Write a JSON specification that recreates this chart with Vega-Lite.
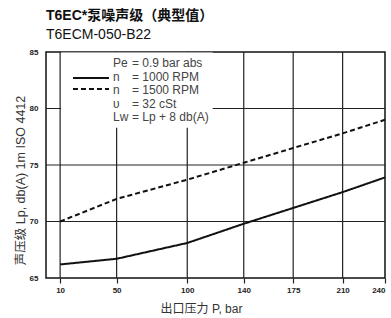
{
  "$schema": "https://vega.github.io/schema/vega-lite/v6.json",
  "width": 339,
  "height": 226,
  "autosize": {"type": "none"},
  "padding": {"left": 46, "top": 52, "right": 6, "bottom": 40},
  "background": "white",
  "title": {
    "text": "T6EC*泵噪声级（典型值）",
    "subtitle": "T6ECM-050-B22",
    "anchor": "start",
    "frame": "group",
    "font": "Liberation Sans, Noto Sans CJK SC",
    "fontSize": 14,
    "fontWeight": "bold",
    "color": "#111",
    "subtitleFont": "Liberation Sans",
    "subtitleFontSize": 14,
    "subtitleColor": "#111",
    "subtitlePadding": 5,
    "offset": 6
  },
  "config": {
    "view": {"stroke": "#111", "strokeWidth": 1.5},
    "axis": {
      "grid": false,
      "domain": false,
      "labelFont": "Liberation Sans",
      "labelFontSize": 8,
      "labelFontWeight": "bold",
      "labelColor": "#222",
      "titleFont": "Liberation Sans, Noto Sans CJK SC",
      "titleFontSize": 12.5,
      "titleFontWeight": "normal",
      "titleColor": "#333",
      "tickColor": "#222",
      "tickWidth": 1.2
    }
  },
  "datasets": {
    "curves": [
      {"P": 10, "L": 66.2, "n": "1000"},
      {"P": 50, "L": 66.7, "n": "1000"},
      {"P": 100, "L": 68.1, "n": "1000"},
      {"P": 140, "L": 69.8, "n": "1000"},
      {"P": 175, "L": 71.2, "n": "1000"},
      {"P": 210, "L": 72.6, "n": "1000"},
      {"P": 240, "L": 73.9, "n": "1000"},
      {"P": 10, "L": 70.0, "n": "1500"},
      {"P": 50, "L": 72.0, "n": "1500"},
      {"P": 100, "L": 73.7, "n": "1500"},
      {"P": 140, "L": 75.2, "n": "1500"},
      {"P": 175, "L": 76.5, "n": "1500"},
      {"P": 210, "L": 77.8, "n": "1500"},
      {"P": 240, "L": 79.0, "n": "1500"}
    ],
    "gridx": [{"P": 10}, {"P": 50}, {"P": 100}, {"P": 140}, {"P": 175}, {"P": 210}],
    "gridy": [{"L": 70}, {"L": 75}, {"L": 80}],
    "box": [{"P": 10.7, "P2": 118, "L": 78.3, "L2": 84.95}],
    "samples": [
      {"P": 19.1, "P2": 44.6, "L": 82.7, "n": "1000"},
      {"P": 19.1, "P2": 44.6, "L": 81.73, "n": "1500"}
    ],
    "notes": [
      {"P": 47.4, "L": 84.03, "sym": "Pe", "val": "= 0.9 bar abs"},
      {"P": 47.4, "L": 82.79, "sym": "n", "val": "= 1000 RPM"},
      {"P": 47.4, "L": 81.68, "sym": "n", "val": "= 1500 RPM"},
      {"P": 47.4, "L": 80.40, "sym": "υ", "val": "= 32 cSt"},
      {"P": 47.4, "L": 79.27, "sym": "Lw", "val": "= Lp + 8 db(A)"}
    ]
  },
  "layer": [
    {
      "data": {"name": "gridx"},
      "mark": {"type": "rule", "color": "#222", "strokeWidth": 1.2},
      "encoding": {
        "x": {
          "field": "P",
          "type": "quantitative",
          "scale": {"domain": [0, 240], "nice": false, "zero": false},
          "axis": {
            "values": [10, 50, 100, 140, 175, 210, 240],
            "title": "出口压力 P, bar",
            "titleFontSize": 12,
            "tickSize": 5,
            "labelPadding": 3,
            "titleX": 155,
            "titleY": 34,
            "titleAlign": "center",
            "titleBaseline": "alphabetic"
          }
        }
      }
    },
    {
      "data": {"name": "gridy"},
      "mark": {"type": "rule", "color": "#222", "strokeWidth": 1.2},
      "encoding": {
        "y": {
          "field": "L",
          "type": "quantitative",
          "scale": {"domain": [65, 85], "nice": false, "zero": false},
          "axis": {
            "values": [65, 70, 75, 80, 85],
            "title": "声压级 Lp, db(A) 1m ISO 4412",
            "ticks": false,
            "labelPadding": 8,
            "titleX": -22,
            "titleY": 128,
            "titleAlign": "center",
            "titleBaseline": "alphabetic"
          }
        }
      }
    },
    {
      "data": {"name": "box"},
      "mark": {"type": "rect", "fill": "white", "stroke": null},
      "encoding": {
        "x": {"field": "P", "type": "quantitative"},
        "x2": {"field": "P2"},
        "y": {"field": "L", "type": "quantitative"},
        "y2": {"field": "L2"}
      }
    },
    {
      "data": {"name": "curves"},
      "mark": {"type": "line", "color": "#111", "strokeWidth": 2},
      "encoding": {
        "x": {"field": "P", "type": "quantitative"},
        "y": {"field": "L", "type": "quantitative"},
        "strokeDash": {
          "field": "n",
          "type": "nominal",
          "scale": {"domain": ["1000", "1500"], "range": [[1, 0], [5, 3]]},
          "legend": null
        }
      }
    },
    {
      "data": {"name": "samples"},
      "mark": {"type": "rule", "color": "#111", "strokeWidth": 2},
      "encoding": {
        "x": {"field": "P", "type": "quantitative"},
        "x2": {"field": "P2"},
        "y": {"field": "L", "type": "quantitative"},
        "strokeDash": {
          "field": "n",
          "type": "nominal",
          "scale": {"domain": ["1000", "1500"], "range": [[1, 0], [7, 4]]},
          "legend": null
        }
      }
    },
    {
      "data": {"name": "notes"},
      "mark": {"type": "text", "align": "left", "baseline": "middle", "font": "Liberation Sans", "fontSize": 12, "color": "#444"},
      "encoding": {
        "x": {"field": "P", "type": "quantitative"},
        "y": {"field": "L", "type": "quantitative"},
        "text": {"field": "sym"}
      }
    },
    {
      "data": {"name": "notes"},
      "mark": {"type": "text", "align": "left", "baseline": "middle", "font": "Liberation Sans", "fontSize": 12, "color": "#444", "dx": 19},
      "encoding": {
        "x": {"field": "P", "type": "quantitative"},
        "y": {"field": "L", "type": "quantitative"},
        "text": {"field": "val"}
      }
    }
  ]
}
